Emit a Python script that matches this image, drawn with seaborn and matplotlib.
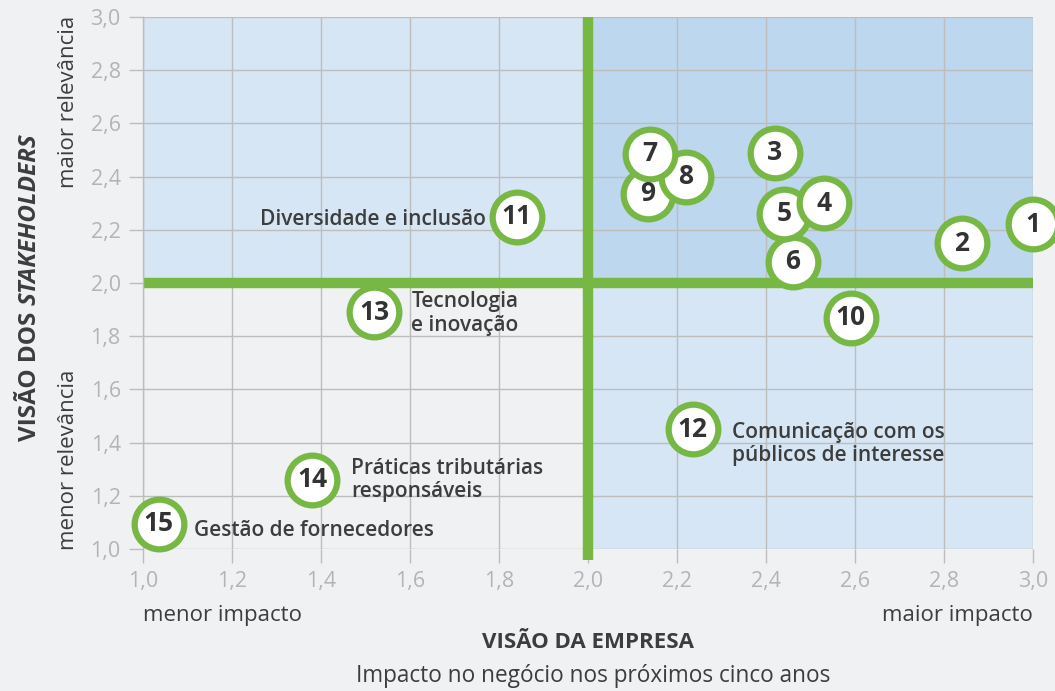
import matplotlib
matplotlib.use("Agg")
import matplotlib.pyplot as plt
import pandas as pd
import seaborn as sns

# dados da matriz de materialidade
temas = [1, 2, 3, 4, 5, 6, 7, 8, 9, 10, 11, 12, 13, 14, 15]
visao_empresa = [3.00, 2.84, 2.42, 2.53, 2.44, 2.46, 2.14, 2.22, 2.135, 2.59, 1.84, 2.235, 1.52, 1.38, 1.035]
visao_stakeholders = [2.22, 2.15, 2.49, 2.30, 2.26, 2.08, 2.485, 2.40, 2.335, 1.87, 2.25, 1.45, 1.89, 1.26, 1.095]

rotulos = {
    11: "Diversidade e inclusão",
    12: "Comunicação com os\npúblicos de interesse",
    13: "Tecnologia\ne inovação",
    14: "Práticas tributárias\nresponsáveis",
    15: "Gestão de fornecedores",
}

ticks = [1.0, 1.2, 1.4, 1.6, 1.8, 2.0, 2.2, 2.4, 2.6, 2.8, 3.0]
LIMIAR = 2.0

VERDE = "#76b843"
FUNDO = "#f0f1f3"
AZUL_CLARO = "#d7e6f4"
AZUL_MEDIO = "#bdd7ee"
CINZA_TXT = "#3d3d3d"
CINZA_TICK = "#b4b4b4"

sns.set_theme(style="white")
plt.rcParams["font.family"] = ["Open Sans", "DejaVu Sans"]

df = pd.DataFrame({"tema": temas, "x": visao_empresa, "y": visao_stakeholders})
df = df.iloc[::-1]  # os menores números ficam por cima

fig = plt.figure(figsize=(10.55, 6.91), dpi=100, facecolor=FUNDO)
ax = fig.add_axes([143 / 1055, 1 - 549 / 691, 890 / 1055, 532 / 691])
ax.set_facecolor(FUNDO)

lo, hi = ticks[0], ticks[-1]
ax.fill_between([lo, LIMIAR], LIMIAR, hi, color=AZUL_CLARO, lw=0, zorder=0)
ax.fill_between([LIMIAR, hi], LIMIAR, hi, color=AZUL_MEDIO, lw=0, zorder=0)
ax.fill_between([LIMIAR, hi], lo, LIMIAR, color=AZUL_CLARO, lw=0, zorder=0)

ax.set_xlim(lo, hi)
ax.set_ylim(lo, hi)
ax.set_xticks(ticks)
ax.set_yticks(ticks)
fmt = [f"{t:.1f}".replace(".", ",") for t in ticks]
ax.set_xticklabels(fmt)
ax.set_yticklabels(fmt)
ax.grid(True, color="#bdbdbd", lw=1, zorder=1)
ax.set_axisbelow(True)
ax.tick_params(axis="both", length=10, width=1, color="#bdbdbd",
               labelcolor=CINZA_TICK, labelsize=15.5, pad=6,
               left=True, bottom=True)
for lado in ["top", "right", "bottom"]:
    ax.spines[lado].set_visible(False)
ax.spines["left"].set_color("#bdbdbd")
ax.spines["left"].set_linewidth(1)

ax.axhline(LIMIAR, color=VERDE, lw=7.5, zorder=2, solid_capstyle="butt")
ax.axvline(LIMIAR, ymin=-0.02, ymax=1, color=VERDE, lw=7.5, zorder=2,
           clip_on=False, solid_capstyle="butt")

sns.scatterplot(data=df, x="x", y="y", ax=ax, s=1280, color="white",
                edgecolor=VERDE, linewidth=4.5, zorder=3, clip_on=False, legend=False)

for _, r in df.iterrows():
    ax.text(r["x"], r["y"], str(int(r["tema"])), ha="center", va="center",
            fontsize=19, fontweight="bold", color="#333333", zorder=4)

pos_rotulo = {
    11: (-0.07, -0.01, "right"),
    12: (0.088, -0.056, "left"),
    13: (0.083, -0.005, "left"),
    14: (0.088, 0.0, "left"),
    15: (0.079, -0.026, "left"),
}
for t, txt in rotulos.items():
    i = temas.index(t)
    dx, dy, ha = pos_rotulo[t]
    ax.text(visao_empresa[i] + dx, visao_stakeholders[i] + dy, txt, ha=ha, va="center",
            fontsize=15, fontweight="semibold", color=CINZA_TXT, linespacing=1.15, zorder=4)

ax.set_xlabel("")
ax.set_ylabel("")

# títulos dos eixos
fig.text(143 / 1055, 1 - 615 / 691, "menor impacto", ha="left", va="center",
         fontsize=16, color=CINZA_TXT)
fig.text(1033 / 1055, 1 - 615 / 691, "maior impacto", ha="right", va="center",
         fontsize=16, color=CINZA_TXT)
fig.text(588 / 1055, 1 - 643 / 691, "VISÃO DA EMPRESA", ha="center", va="center",
         fontsize=16, fontweight="bold", color=CINZA_TXT)
fig.text(593 / 1055, 1 - 676 / 691, "Impacto no negócio nos próximos cinco anos",
         ha="center", va="center", fontsize=16.3, color=CINZA_TXT)

fig.text(68 / 1055, 1 - 102 / 691, "maior relevância", rotation=90, ha="center",
         va="center", fontsize=16, color=CINZA_TXT)
fig.text(68 / 1055, 1 - 460 / 691, "menor relevância", rotation=90, ha="center",
         va="center", fontsize=16, color=CINZA_TXT)

# rótulo do eixo y em duas partes (a segunda em itálico)
parte1 = fig.text(30 / 1055, 1 - 441 / 691, "VISÃO DOS", rotation=90, ha="center",
                  va="bottom", fontsize=17.5, fontweight="bold", color=CINZA_TXT)
fig.canvas.draw()
bb = parte1.get_window_extent(fig.canvas.get_renderer())
topo = (bb.y1 + 7) / fig.bbox.height
fig.text(30 / 1055, topo, "STAKEHOLDERS", rotation=90, ha="center",
         va="bottom", fontsize=17.5, fontweight="bold", fontstyle="italic", color=CINZA_TXT)

fig.savefig("out.png", dpi=100, facecolor=FUNDO)
